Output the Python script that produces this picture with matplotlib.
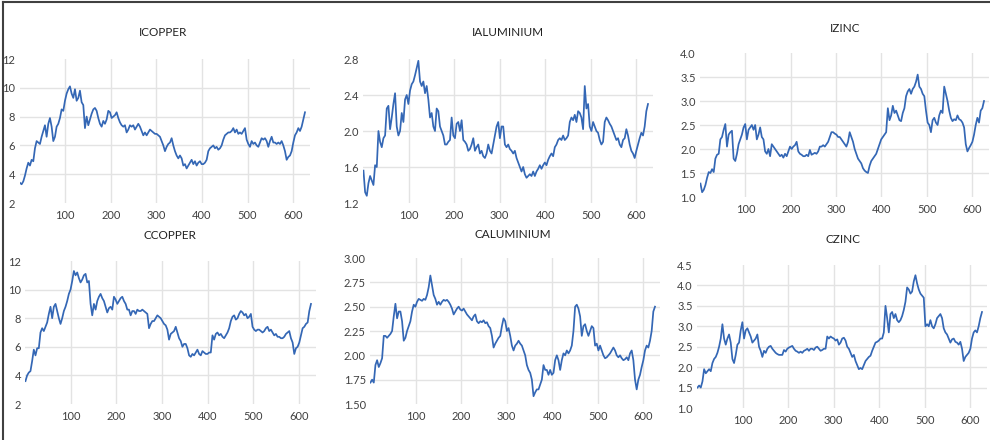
import numpy as np
import matplotlib.pyplot as plt

plt.rcParams['font.family'] = ['Lato', 'DejaVu Sans']

# monthly price indices, read every ~3.6 observations
icopper = [3.4, 3.3, 3.5, 3.9, 4.4, 4.8, 4.6, 5.0, 4.9, 5.8, 6.3, 6.2, 6.1, 6.6, 7.0, 7.4, 6.6, 7.5, 7.9, 7.3,
           6.3, 6.6, 7.3, 7.5, 7.9, 8.5, 8.4, 9.1, 9.6, 9.9, 10.1, 9.6, 9.3, 9.9, 9.1, 9.3, 9.8, 9.0, 8.8, 7.2,
           8.0, 7.4, 7.8, 8.2, 8.5, 8.6, 8.4, 7.9, 7.5, 7.3, 7.7, 7.5, 7.8, 8.4, 8.3, 7.9, 8.0, 8.1, 8.3, 7.9,
           7.6, 7.4, 7.3, 7.4, 6.9, 7.1, 7.4, 7.3, 7.4, 7.1, 7.3, 7.5, 7.3, 7.0, 6.7, 6.9, 6.7, 6.9, 7.1, 7.0,
           6.9, 6.8, 6.8, 6.7, 6.6, 6.3, 6.0, 5.6, 5.9, 6.1, 6.2, 6.5, 6.0, 5.6, 5.3, 5.1, 5.3, 5.1, 4.6, 4.7,
           4.4, 4.6, 4.8, 5.0, 4.7, 4.9, 4.6, 4.8, 4.9, 4.7, 4.7, 4.8, 5.0, 5.6, 5.8, 5.9, 6.0, 5.8, 5.9, 5.7,
           5.8, 6.0, 6.4, 6.7, 6.8, 6.9, 6.9, 7.0, 7.2, 6.9, 7.1, 6.8, 6.9, 6.8, 7.0, 7.2, 6.4, 6.1, 5.9, 6.3,
           6.1, 6.2, 6.0, 5.9, 6.2, 6.5, 6.4, 6.5, 6.3, 5.9, 6.3, 6.6, 6.2, 6.2, 6.1, 6.2, 6.1, 6.3, 6.0, 5.6,
           5.0, 5.2, 5.3, 5.6, 6.2, 6.7, 6.9, 7.2, 7.0, 7.3, 7.8, 8.3]

ialuminium = [1.56, 1.32, 1.28, 1.42, 1.50, 1.45, 1.40, 1.62, 1.60, 2.00, 1.88, 1.82, 1.92, 1.95, 2.25, 2.28,
              2.02, 2.15, 2.30, 2.42, 2.05, 1.95, 2.00, 2.20, 2.10, 2.35, 2.40, 2.30, 2.45, 2.52, 2.55, 2.62,
              2.70, 2.78, 2.55, 2.50, 2.55, 2.42, 2.50, 2.35, 2.15, 2.20, 2.05, 2.00, 2.25, 2.22, 2.05, 2.00,
              1.95, 1.85, 1.85, 1.88, 1.90, 2.15, 1.95, 1.92, 2.08, 2.10, 2.00, 2.12, 1.90, 1.88, 1.85, 1.78,
              1.80, 1.85, 1.92, 1.78, 1.82, 1.85, 1.75, 1.78, 1.72, 1.70, 1.75, 1.85, 1.78, 1.75, 1.85, 1.95,
              2.05, 2.10, 1.92, 2.05, 2.05, 1.85, 1.82, 1.85, 1.80, 1.78, 1.75, 1.78, 1.70, 1.65, 1.60, 1.55,
              1.60, 1.52, 1.48, 1.50, 1.52, 1.50, 1.55, 1.50, 1.55, 1.58, 1.62, 1.58, 1.62, 1.65, 1.62, 1.68,
              1.72, 1.75, 1.72, 1.82, 1.85, 1.90, 1.92, 1.90, 1.95, 1.90, 1.92, 1.95, 2.10, 2.15, 2.12, 2.18,
              2.10, 2.22, 2.20, 2.15, 2.02, 2.50, 2.25, 2.30, 2.05, 2.00, 2.10, 2.05, 2.00, 1.98, 1.90, 1.85,
              1.88, 2.10, 2.15, 2.12, 2.08, 2.05, 2.00, 1.95, 1.90, 1.92, 1.85, 1.82, 1.90, 1.92, 2.02, 1.95,
              1.85, 1.78, 1.75, 1.70, 1.78, 1.85, 1.92, 1.98, 1.95, 2.05, 2.22, 2.30]

izinc = [1.28, 1.10, 1.15, 1.25, 1.40, 1.52, 1.50, 1.58, 1.52, 1.80, 1.88, 1.90, 2.20, 2.25, 2.40, 2.52,
         2.05, 2.30, 2.35, 2.38, 1.80, 1.75, 1.90, 2.10, 2.20, 2.30, 2.45, 2.52, 2.20, 2.40, 2.45, 2.50,
         2.40, 2.50, 2.20, 2.30, 2.45, 2.25, 2.20, 1.95, 1.90, 2.00, 1.85, 2.10, 2.05, 2.00, 1.95, 1.90,
         1.85, 1.88, 1.82, 1.90, 1.85, 1.95, 2.05, 2.00, 2.05, 2.08, 2.15, 1.95, 1.90, 1.88, 1.85, 1.85,
         1.88, 1.85, 1.98, 1.88, 1.90, 1.92, 1.90, 1.95, 2.05, 2.05, 2.08, 2.05, 2.10, 2.15, 2.25, 2.35,
         2.35, 2.32, 2.30, 2.25, 2.25, 2.20, 2.15, 2.10, 2.05, 2.15, 2.35, 2.25, 2.15, 2.00, 1.90, 1.80,
         1.75, 1.70, 1.60, 1.55, 1.52, 1.50, 1.65, 1.75, 1.80, 1.85, 1.90, 2.00, 2.10, 2.20, 2.25, 2.30,
         2.35, 2.85, 2.60, 2.70, 2.90, 2.75, 2.80, 2.70, 2.60, 2.58, 2.75, 2.85, 3.10, 3.20, 3.25, 3.15,
         3.25, 3.30, 3.40, 3.55, 3.30, 3.25, 3.15, 3.10, 2.80, 2.55, 2.50, 2.35, 2.60, 2.65, 2.55, 2.50,
         2.70, 2.80, 2.75, 3.30, 3.15, 3.00, 2.80, 2.65, 2.58, 2.62, 2.60, 2.70, 2.62, 2.60, 2.55, 2.45,
         2.10, 1.95, 2.02, 2.08, 2.15, 2.30, 2.50, 2.65, 2.55, 2.80, 2.85, 3.00]

ccopper = [3.6, 4.0, 4.2, 4.3, 5.0, 5.8, 5.4, 5.9, 5.9, 7.0, 7.3, 7.1, 7.4, 7.7, 8.3, 8.8, 8.0, 8.8, 9.0, 8.5,
           8.0, 7.6, 8.0, 8.5, 8.8, 9.2, 9.7, 10.0, 10.6, 11.3, 11.0, 11.2, 10.8, 10.5, 10.7, 11.0, 11.1, 10.5,
           10.6, 9.0, 8.2, 9.0, 8.6, 9.2, 9.5, 9.7, 9.4, 9.2, 8.8, 8.4, 8.7, 8.8, 8.6, 9.5, 9.3, 9.0, 9.2, 9.4,
           9.5, 9.2, 9.0, 8.6, 8.6, 8.2, 8.5, 8.5, 8.3, 8.6, 8.5, 8.5, 8.6, 8.5, 8.4, 8.3, 7.3, 7.6, 7.8, 7.8,
           8.0, 8.2, 8.1, 8.0, 7.8, 7.6, 7.5, 7.2, 6.5, 6.9, 7.0, 7.1, 7.4, 7.0, 6.6, 6.4, 6.0, 6.2, 6.2, 5.9,
           5.4, 5.3, 5.5, 5.4, 5.6, 5.8, 5.5, 5.4, 5.7, 5.6, 5.5, 5.5, 5.6, 5.6, 6.8, 6.5, 6.9, 7.0, 6.8, 6.9,
           6.7, 6.6, 6.8, 7.0, 7.3, 7.8, 8.1, 8.2, 7.9, 8.0, 8.3, 8.5, 8.4, 8.2, 8.3, 8.0, 8.1, 8.3, 7.4, 7.2,
           7.1, 7.2, 7.2, 7.1, 7.0, 7.1, 7.3, 7.4, 7.1, 7.2, 7.0, 6.8, 6.9, 6.7, 6.7, 6.6, 6.6, 6.7, 6.9, 7.0,
           7.1, 6.6, 6.3, 5.5, 5.9, 6.0, 6.3, 6.8, 7.3, 7.4, 7.6, 7.7, 8.5, 9.0]

caluminium = [1.72, 1.75, 1.72, 1.90, 1.95, 1.88, 1.92, 1.97, 2.20, 2.20, 2.18, 2.20, 2.22, 2.25, 2.40, 2.53,
              2.38, 2.45, 2.45, 2.35, 2.15, 2.18, 2.25, 2.30, 2.35, 2.45, 2.52, 2.50, 2.55, 2.58, 2.57, 2.56,
              2.58, 2.57, 2.62, 2.70, 2.82, 2.72, 2.62, 2.58, 2.52, 2.55, 2.52, 2.55, 2.57, 2.56, 2.57, 2.55,
              2.52, 2.48, 2.42, 2.45, 2.48, 2.50, 2.47, 2.46, 2.48, 2.45, 2.42, 2.40, 2.38, 2.36, 2.40, 2.42,
              2.35, 2.33, 2.35, 2.34, 2.36, 2.33, 2.34, 2.30, 2.28, 2.20, 2.08, 2.12, 2.15, 2.18, 2.20, 2.30,
              2.38, 2.35, 2.25, 2.28, 2.20, 2.10, 2.05, 2.10, 2.12, 2.15, 2.12, 2.10, 2.05, 2.00, 1.90, 1.85,
              1.82, 1.75, 1.58, 1.62, 1.65, 1.65, 1.70, 1.75, 1.90, 1.85, 1.85, 1.80, 1.85, 1.80, 1.82, 1.95,
              2.00, 1.95, 1.85, 1.95, 2.02, 2.00, 2.05, 2.02, 2.05, 2.10, 2.25, 2.50, 2.52, 2.48, 2.40, 2.20,
              2.30, 2.32, 2.25, 2.20, 2.25, 2.30, 2.28, 2.10, 2.12, 2.05, 2.10, 2.05, 2.00, 1.97, 1.98, 2.00,
              2.02, 2.05, 2.08, 2.05, 2.00, 1.98, 2.00, 1.97, 1.95, 1.96, 1.98, 1.95, 2.02, 2.05, 1.95, 1.75,
              1.65, 1.75, 1.80, 1.88, 1.95, 2.05, 2.10, 2.08, 2.15, 2.25, 2.45, 2.50]

czinc = [1.50, 1.55, 1.50, 1.65, 1.95, 1.85, 1.90, 1.95, 1.90, 2.10, 2.20, 2.25, 2.35, 2.50, 2.70, 3.05,
         2.70, 2.55, 2.70, 2.80, 2.60, 2.20, 2.10, 2.30, 2.55, 2.60, 2.90, 3.10, 2.70, 2.90, 2.95, 2.85,
         2.75, 2.60, 2.65, 2.70, 2.80, 2.50, 2.40, 2.25, 2.40, 2.35, 2.45, 2.50, 2.52, 2.45, 2.40, 2.35,
         2.32, 2.30, 2.30, 2.30, 2.42, 2.38, 2.45, 2.48, 2.50, 2.52, 2.45, 2.40, 2.38, 2.35, 2.38, 2.35,
         2.40, 2.42, 2.45, 2.40, 2.45, 2.45, 2.42, 2.48, 2.50, 2.45, 2.40, 2.42, 2.45, 2.45, 2.75, 2.70,
         2.75, 2.72, 2.70, 2.65, 2.68, 2.55, 2.60, 2.70, 2.72, 2.65, 2.50, 2.45, 2.35, 2.25, 2.30, 2.15,
         2.05, 1.95, 1.98, 1.95, 2.05, 2.15, 2.20, 2.25, 2.28, 2.40, 2.50, 2.60, 2.62, 2.65, 2.70, 2.70,
         2.85, 3.50, 3.20, 2.85, 3.30, 3.35, 3.20, 3.30, 3.15, 3.10, 3.15, 3.25, 3.40, 3.60, 3.95, 3.90,
         3.80, 3.85, 4.10, 4.25, 4.05, 3.90, 3.80, 3.75, 3.70, 3.00, 3.05, 3.00, 3.15, 3.00, 2.95, 3.05,
         3.20, 3.25, 3.30, 3.20, 2.95, 2.85, 2.80, 2.70, 2.60, 2.68, 2.70, 2.62, 2.60, 2.55, 2.62, 2.45,
         2.15, 2.25, 2.30, 2.35, 2.45, 2.70, 2.85, 2.90, 2.85, 3.00, 3.20, 3.35]

titles = ['ICOPPER', 'IALUMINIUM', 'IZINC', 'CCOPPER', 'CALUMINIUM', 'CZINC']
series = [icopper, ialuminium, izinc, ccopper, caluminium, czinc]
y_ranges = [(2, 12, 2), (1.2, 2.8, 0.4), (1.0, 4.0, 0.5), (2, 12, 2), (1.5, 3.0, 0.25), (1.0, 4.5, 0.5)]
y_formats = ['{:.0f}', '{:.1f}', '{:.1f}', '{:.0f}', '{:.2f}', '{:.1f}']
x_ticks = [100, 200, 300, 400, 500, 600]

W, H = 990, 440
# plot boxes in pixels: left, right, top, bottom
boxes = [(19.5, 310, 59, 203), (363, 653, 59, 203), (700, 989, 53, 197),
         (25, 316, 261, 404), (370, 660, 258, 404), (697, 987, 265, 408)]
title_xy = [(163, 33), (508, 33), (845, 29), (170, 235), (513, 234), (843, 239)]

fig = plt.figure(figsize=(W / 100, H / 100), dpi=100)
fig.patch.set_facecolor('white')

line_color = '#3467b5'
grid_color = '#e3e3e3'
tick_color = '#404040'

for i in range(6):
    l, r, t, b = boxes[i]
    ax = fig.add_axes([l / W, 1 - b / H, (r - l) / W, (b - t) / H])
    vals = np.array(series[i])
    xs = np.linspace(1, 626, len(vals))
    ax.plot(xs, vals, color=line_color, lw=1.25, solid_joinstyle='round')

    lo, hi, step = y_ranges[i]
    yt = np.arange(lo, hi + step / 2, step)
    ax.set_ylim(lo, hi)
    ax.set_xlim(0, 637)
    ax.set_yticks(yt)
    ax.set_yticklabels([y_formats[i].format(v) for v in yt])
    ax.set_xticks(x_ticks)
    ax.set_xticklabels([str(v) for v in x_ticks])

    # interior horizontal gridlines only
    for v in yt[1:-1]:
        ax.axhline(v, color=grid_color, lw=1, zorder=0)
    for v in x_ticks:
        ax.axvline(v, color=grid_color, lw=1, zorder=0)

    for s in ax.spines.values():
        s.set_visible(False)
    ax.tick_params(axis='both', length=0, labelsize=8, colors=tick_color)
    ax.tick_params(axis='y', pad=3)
    ax.tick_params(axis='x', pad=5)

    tx, ty = title_xy[i]
    fig.text(tx / W, 1 - ty / H, titles[i], ha='center', va='center',
             fontsize=8.5, color='#222222')

# outer frame along top and left edges
fig.add_artist(plt.Line2D([3 / W, 1], [1 - 2 / H, 1 - 2 / H], color='#404040', lw=1.5))
fig.add_artist(plt.Line2D([3 / W, 3 / W], [0, 1 - 2 / H], color='#404040', lw=1.5))

fig.savefig('out.png', dpi=100)
